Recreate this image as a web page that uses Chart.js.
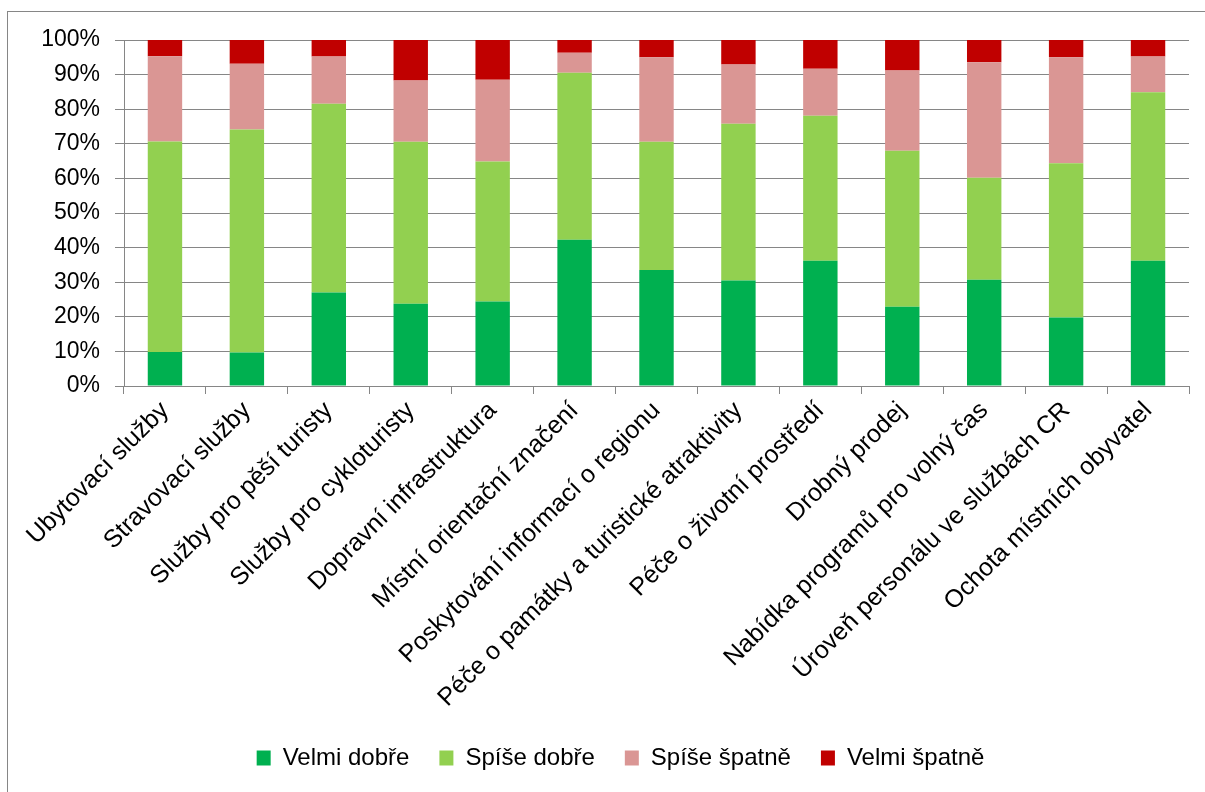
<!DOCTYPE html>
<html>
<head>
<meta charset="utf-8">
<script src="https://cdn.jsdelivr.net/npm/chart.js@4"></script>
<style>
  body { margin: 0; background: #fff; }
  canvas { display: block; }
</style>
</head>
<body>
<canvas id="chart" width="1205" height="792"></canvas>
<script>
// categories and series (percent of answers)
const categories = [
  'Ubytovací služby',
  'Stravovací služby',
  'Služby pro pěší turisty',
  'Služby pro cykloturisty',
  'Dopravní infrastruktura',
  'Místní orientační značení',
  'Poskytování informací o regionu',
  'Péče o památky a turistické atraktivity',
  'Péče o životní prostředí',
  'Drobný prodej',
  'Nabídka programů pro volný čas',
  'Úroveň personálu ve službách CR',
  'Ochota místních obyvatel'
];
const velmiDobre  = [9.8, 9.7, 27.0, 23.8, 24.4, 42.3, 33.5, 30.5, 36.2, 22.9, 30.7, 19.8, 36.2];
const spiseDobre  = [60.9, 64.4, 54.6, 46.8, 40.5, 48.2, 37.1, 45.3, 41.9, 45.1, 29.5, 44.6, 48.7];
const spiseSpatne = [24.6, 19.0, 13.6, 17.7, 23.6, 5.8, 24.4, 17.1, 13.6, 23.2, 33.4, 30.6, 10.3];
const velmiSpatne = [4.7, 6.9, 4.8, 11.7, 11.5, 3.7, 5.0, 7.1, 8.3, 8.8, 6.4, 5.0, 4.8];
const yTicks = [0, 10, 20, 30, 40, 50, 60, 70, 80, 90, 100];

const gridGray = '#868686';
const font = 'Liberation Sans';

// outer frame like the excel chart area
const framePlugin = {
  id: 'frame',
  beforeDraw(chart) {
    const ctx = chart.ctx;
    ctx.save();
    ctx.fillStyle = '#fff';
    ctx.fillRect(0, 0, chart.width, chart.height);
    ctx.strokeStyle = gridGray;
    ctx.lineWidth = 1;
    ctx.strokeRect(7.5, 11.5, 1205, 792);
    ctx.restore();
  }
};

// excel centres the legend a bit more to the right
const legendShift = {
  id: 'legendShift',
  afterLayout(chart) {
    chart.legend.left += 26;
    chart.legend.right += 26;
  }
};

function makeSet(label, data, color) {
  return {
    label: label,
    data: data,
    backgroundColor: color,
    borderWidth: 0,
    categoryPercentage: 1,
    barPercentage: 0.42
  };
}

new Chart(document.getElementById('chart'), {
  type: 'bar',
  data: {
    labels: categories,
    datasets: [
      makeSet('Velmi dobře', velmiDobre, '#00B050'),
      makeSet('Spíše dobře', spiseDobre, '#92D050'),
      makeSet('Spíše špatně', spiseSpatne, '#DA9694'),
      makeSet('Velmi špatně', velmiSpatne, '#C00000')
    ]
  },
  options: {
    responsive: false,
    animation: false,
    devicePixelRatio: 1,
    layout: { padding: { left: 0, right: 16, top: 40, bottom: 12 } },
    plugins: {
      tooltip: { enabled: false },
      legend: {
        position: 'bottom',
        labels: {
          color: '#000',
          font: { family: font, size: 24 },
          boxWidth: 14,
          boxHeight: 15,
          padding: 30
        }
      }
    },
    scales: {
      x: {
        stacked: true,
        grid: {
          offset: true,
          drawOnChartArea: false,
          drawTicks: true,
          tickLength: 8,
          color: gridGray
        },
        border: { display: true, color: gridGray },
        ticks: {
          color: '#000',
          font: { family: font, size: 25 },
          minRotation: 45,
          maxRotation: 45,
          autoSkip: false,
          padding: 2
        },
        afterFit(scale) { scale.height = 330; }
      },
      y: {
        stacked: true,
        min: 0,
        max: 100,
        afterBuildTicks(scale) {
          scale.ticks = yTicks.map(v => ({ value: v }));
        },
        grid: {
          color: gridGray,
          drawTicks: true,
          tickLength: 9
        },
        border: { display: true, color: gridGray },
        ticks: {
          color: '#000',
          font: { family: font, size: 23 },
          padding: 15,
          callback: v => v + '%'
        },
        afterFit(scale) { scale.width = 124; }
      }
    }
  },
  plugins: [framePlugin, legendShift]
});
</script>
</body>
</html>
